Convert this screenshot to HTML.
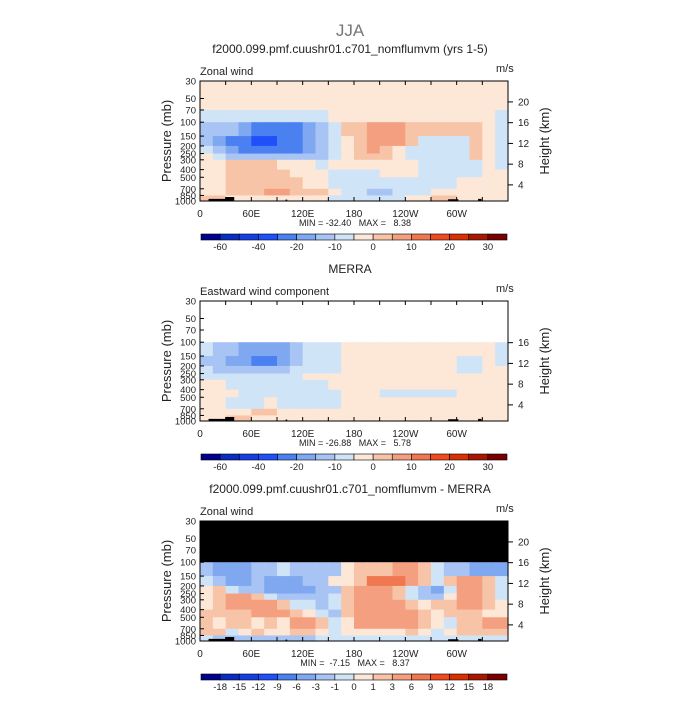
<!DOCTYPE html>
<html><head><meta charset="utf-8"><style>
body{margin:0;background:#fff;}
svg text{font-family:"Liberation Sans",sans-serif;fill:#222;white-space:pre;}
</style></head><body>
<svg id="c" width="700" height="700" viewBox="0 0 700 700" xmlns="http://www.w3.org/2000/svg">
<text x="350" y="36" font-size="17" text-anchor="middle" fill="#777" style="fill:#777">JJA</text>
</svg>
<script>
// ---- data ----
const pressureLevels=[30,50,70,100,150,200,250,300,400,500,700,850,1000];
const pressureTickLabels=["30","50","70","100","150","200","250","300","400","500","700","850","1000"];
const lonTickValues=[0,60,120,180,240,300];
const lonTickLabels=["0","60E","120E","180","120W","60W"];
const heightTicksModel=[4,8,12,16,20];
const heightTicksMerra=[4,8,12,16];
const levelsMain=[-70,-60,-50,-40,-30,-20,-15,-10,-5,0,5,10,15,20,25,30,35];
const levelsMainLabels=["-60","-40","-20","-10","0","10","20","30"];
const levelsMainLabelIdx=[1,3,5,7,9,11,13,15];
const levelsDiff=[-21,-18,-15,-12,-9,-6,-3,-1,0,1,3,6,9,12,15,18,21];
const levelsDiffLabels=["-18","-15","-12","-9","-6","-3","-1","0","1","3","6","9","12","15","18"];
const levelsDiffLabelIdx=[1,2,3,4,5,6,7,8,9,10,11,12,13,14,15];
const palette=["#00008c","#0a2cc0","#1440e0","#2050f8","#4a80f0","#80a8f0","#a8c4f4","#d0e4f8","#fde8d8","#f8c4a8","#f4a080","#f07850","#f04a20","#d83000","#a81800","#780000"];
// rows: pressure bands 30-50 ... 850-1000 ; 24 columns of 15 deg
const modelU=[
[-2,-2,-2,-2,-2,-2,-2,-2,-2,-2,-2,-2,-2,-2,-2,-2,-2,-2,-2,-2,-2,-2,-2,-2],
[-2,-2,-2,-2,-2,-2,-2,-2,-2,-2,-2,-2,-2,-2,-2,-2,-2,-2,-2,-2,-2,-2,-2,-2],
[-7,-7,-7,-7,-7,-7,-7,-7,-7,-7,-2,-2,-2,-2,-2,-2,-2,-2,-2,-2,-2,-2,-2,-7],
[-12,-12,-12,-17,-25,-25,-25,-25,-17,-12,-7,2,2,7,7,7,2,2,2,2,2,2,-2,-7],
[-12,-17,-25,-25,-35,-35,-25,-25,-17,-12,-7,-2,2,7,7,7,2,-7,-7,-7,-7,2,-2,-7],
[-7,-12,-17,-25,-25,-25,-25,-25,-17,-12,-7,-2,2,7,2,-2,-7,-7,-7,-7,-7,2,-2,-7],
[-2,-7,-12,-12,-12,-12,-12,-12,-12,-12,-7,-2,2,2,2,-2,-7,-7,-7,-7,-7,2,-2,-7],
[-2,-2,2,2,2,2,-2,-2,-2,-7,-2,-2,-2,-2,-2,-2,-2,-7,-7,-7,-7,-7,-2,-7],
[-2,-2,2,2,2,2,2,-2,-2,-2,-7,-7,-7,-7,-2,-2,-2,-7,-7,-7,-7,-7,-2,-2],
[-2,-2,2,2,2,2,2,2,-2,-2,-7,-7,-7,-7,-7,-7,-7,-7,-7,-7,-2,-2,-2,-2],
[-2,-2,2,2,2,7,7,2,2,2,-2,-7,-7,-12,-12,-7,-7,-7,-2,-2,-2,-2,-2,-2],
[2,2,-2,-2,-2,-2,-2,-2,-2,-2,-7,-7,-7,-7,-7,-7,-2,-2,2,2,-2,-2,-2,-2]];
const merraU=[
null,null,null,
[-7,-12,-12,-17,-17,-17,-17,-12,-7,-7,-7,-2,-2,-2,-2,-2,-2,-2,-2,-2,-2,-2,-2,-7],
[-12,-12,-17,-17,-25,-25,-17,-12,-7,-7,-7,-2,-2,-2,-2,-2,-2,-2,-2,-2,-7,-7,-2,-7],
[-7,-12,-12,-12,-12,-12,-12,-7,-7,-7,-7,-2,-2,-2,-2,-2,-2,-2,-2,-2,-7,-7,-2,-2],
[-7,-7,-7,-7,-7,-7,-7,-7,-2,-2,-2,-2,-2,-2,-2,-2,-2,-2,-2,-2,-2,-2,-2,-2],
[-2,-2,-7,-7,-7,-7,-7,-7,-7,-7,-2,-2,-2,-2,-2,-2,-2,-2,-2,-2,-2,-2,-2,-2],
[-2,-2,-2,-7,-7,-7,-7,-7,-7,-7,-7,-2,-2,-2,-7,-7,-7,-7,-7,-7,-2,-2,-2,-2],
[-2,-2,-7,-7,-7,-2,-7,-7,-7,-7,-7,-2,-2,-2,-2,-2,-2,-2,-2,-2,-2,-2,-2,-2],
[-2,-2,-2,-2,2,2,-2,-2,-2,-2,-2,-2,-2,-2,-2,-2,-2,-2,-2,-2,-2,-2,-2,-2],
[-2,-2,2,2,-2,-2,-2,-2,-2,-2,-2,-2,-2,-2,-2,-2,-2,-2,-2,-2,-2,-2,-2,-2]];
const diffU=[
null,null,null,
[-2,-4,-4,-4,-2,-2,-0.5,-2,-2,-2,-2,0.5,2,2,2,4,4,2,-0.5,-2,-2,-4,-4,-4],
[-0.5,-2,-4,-4,-2,-4,-4,-4,-2,-2,0.5,0.5,2,7,7,7,4,2,-0.5,2,4,4,2,-0.5],
[0.5,2,-0.5,-2,-2,-4,-4.5,-4,-4,-2,-2,2,4,4,4,2,-0.5,-2,-4,-0.5,4,4,2,-0.5],
[0.5,2,4,4,2,-0.5,-2,-2,-2,-2,-0.5,2,4,4,4,2,-0.5,-2,-2,0.5,4,4,2,-0.5],
[0.5,2,4,4,4,4,2,-0.5,-0.5,-2,-0.5,2,4,4,4,4,2,0.5,2,2,4,4,2,0.5],
[2,2,2,2,4,4,4,2,0.5,-0.5,-2,2,4,4,4,4,4,2,0.5,2,2,2,0.5,0.5],
[2,0.5,2,2,0.5,2,0.5,4,4,2,-0.5,0.5,4,4,4,4,4,2,0.5,-0.5,2,2,4,4],
[2,2,-0.5,0.5,2,0.5,0.5,2,2,0.5,-0.5,0.5,0.5,0.5,0.5,0.5,2,0.5,-0.5,0.5,2,2,2,2],
[-0.5,-2,-2,-2,-2,-2,-2,-2,-2,-0.5,-0.5,-0.5,-0.5,-0.5,-0.5,-0.5,-0.5,-0.5,-0.5,-0.5,-0.5,-0.5,-0.5,-0.5]];
const topoLon=[10,30,100,290,325];
const topoWidth=[20,10,2,12,4];
const topoHeightMb=[60,110,40,50,60];

// ---- drawing ----
const NS="http://www.w3.org/2000/svg";
const svg=document.getElementById('c');
const X0=200,X1=508,PH=120;
function xs(lon){return X0+(X1-X0)*lon/360;}
function ys(p,top){return top+PH*Math.log(p/30)/Math.log(1000/30);}
function hs(km,top){const p=1145*Math.exp(-km/6.6);return ys(p,top);}
function el(tag,attrs,parent){const e=document.createElementNS(NS,tag);for(const k in attrs)e.setAttribute(k,attrs[k]);(parent||svg).appendChild(e);return e;}
function txt(x,y,s,size,anchor,parent,extra){const t=el('text',Object.assign({x:x,y:y,'font-size':size,'text-anchor':anchor||'start'},extra||{}),parent);t.textContent=s;return t;}
function colorFor(v,levels){for(let i=0;i<levels.length-1;i++){if(v<levels[i+1])return palette[i];}return palette[palette.length-1];}

function panel(opts){
  const top=opts.top;
  const g=el('g',{});
  
  
  txt(350,top-28,opts.title,12,'middle',g);
  const lt=txt(X0,top-6,opts.left,11,'start',g);
  
  txt(X1-12,top-9,'m/s',11,'start',g);
  el('rect',{x:X0,y:top,width:X1-X0,height:PH,fill:'#fff'},g);
  const grid=opts.data;
  for(let r=0;r<grid.length;r++){
    const yA=ys(pressureLevels[r],top),yB=ys(pressureLevels[r+1],top);
    const row=grid[r];
    if(row===null){
      if(opts.nullFill){const b=el('rect',{x:X0,y:yA,width:X1-X0,height:yB-yA+0.5,fill:opts.nullFill},g);}
      continue;}
    for(let c=0;c<row.length;c++){
      const xa=xs(c*15),xb=xs((c+1)*15);
      const cell=el('rect',{x:xa,y:yA,width:xb-xa+0.6,height:yB-yA+0.6,fill:colorFor(row[c],opts.levels)},g);
      
      
    }
  }
  for(let i=0;i<topoLon.length;i++){
    const yt=ys(1000-topoHeightMb[i],top);
    const t=el('rect',{x:xs(topoLon[i]),y:yt,width:xs(topoWidth[i])-X0,height:top+PH-yt,fill:'#000'},g);
    
    
  }
  el('rect',{x:X0,y:top,width:X1-X0,height:PH,fill:'none',stroke:'#000','stroke-width':1},g);
  for(let i=0;i<pressureLevels.length;i++){
    const y=ys(pressureLevels[i],top);
    el('line',{x1:X0,x2:X0+4,y1:y,y2:y,stroke:'#000'},g);
    txt(X0-4,y+3.5,pressureTickLabels[i],9.5,'end',g);
  }
  const yl=txt(0,0,'Pressure (mb)',13,'middle',g,{transform:`translate(171,${top+PH/2}) rotate(-90)`});
  
  for(const h of opts.heights){
    const y=hs(h,top);
    el('line',{x1:X1,x2:X1+5,y1:y,y2:y,stroke:'#000'},g);
    txt(X1+10,y+3.5,String(h),10,'start',g);
  }
  const yr=txt(0,0,'Height (km)',13,'middle',g,{transform:`translate(549,${top+PH/2}) rotate(-90)`});
  
  for(let lon=0;lon<360;lon+=30){
    el('line',{x1:xs(lon),x2:xs(lon),y1:top+PH,y2:top+PH-4,stroke:'#000'},g);
    el('line',{x1:xs(lon),x2:xs(lon),y1:top,y2:top+4,stroke:'#000'},g);
  }
  for(let i=0;i<lonTickValues.length;i++){
    txt(xs(lonTickValues[i]),top+PH+16,lonTickLabels[i],10,'middle',g);
  }
  txt(355,top+PH+25,opts.minmax,9,'middle',g);
  const cb=el('g',{},g);
  
  
  const cx0=201,cx1=507,cy=top+PH+33,bw=(cx1-cx0)/16;
  for(let i=0;i<16;i++){
    el('rect',{x:cx0+i*bw,y:cy,width:bw,height:6,fill:palette[i],stroke:'#000','stroke-width':0.6},cb);
  }
  for(let i=0;i<opts.cbLabels.length;i++){
    txt(cx0+opts.cbIdx[i]*bw,cy+16,opts.cbLabels[i],9.5,'middle',cb);
  }
}
panel({top:81,name:'model-panel',title:'f2000.099.pmf.cuushr01.c701_nomflumvm (yrs 1-5)',left:'Zonal wind',data:modelU,levels:levelsMain,heights:heightTicksModel,minmax:'MIN = -32.40   MAX =   8.38',cbLabels:levelsMainLabels,cbIdx:levelsMainLabelIdx});
panel({top:301,name:'merra-panel',title:'MERRA',left:'Eastward wind component',data:merraU,levels:levelsMain,heights:heightTicksMerra,minmax:'MIN = -26.88   MAX =   5.78',cbLabels:levelsMainLabels,cbIdx:levelsMainLabelIdx});
panel({top:521,name:'difference-panel',title:'f2000.099.pmf.cuushr01.c701_nomflumvm - MERRA',left:'Zonal wind',data:diffU,levels:levelsDiff,heights:heightTicksModel,minmax:'MIN =  -7.15   MAX =   8.37',cbLabels:levelsDiffLabels,cbIdx:levelsDiffLabelIdx,nullFill:'#000'});
</script>
</body></html>
